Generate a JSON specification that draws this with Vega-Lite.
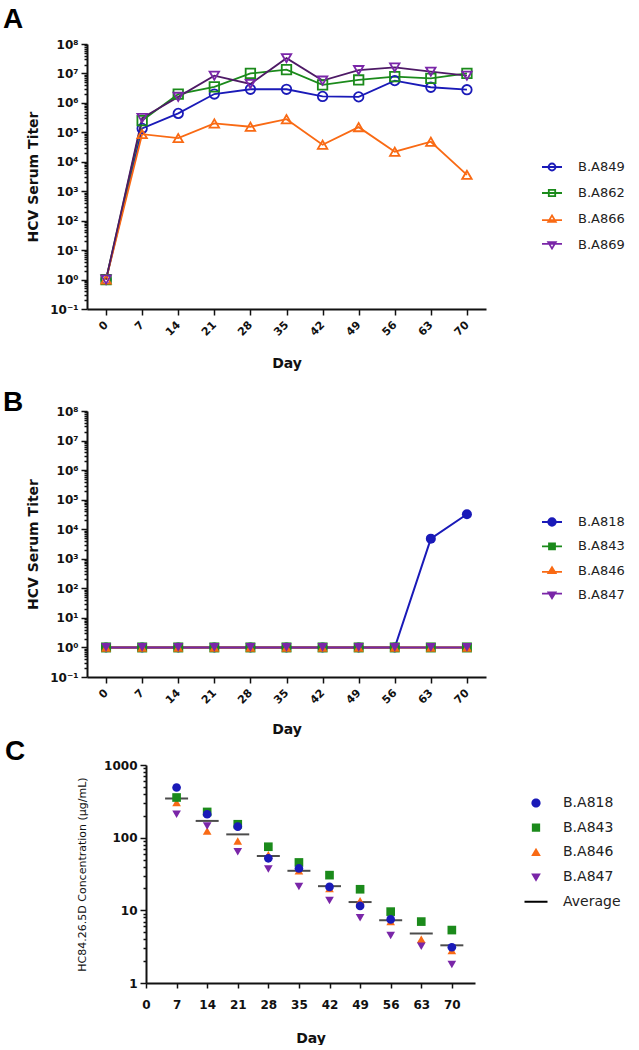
{
  "$schema": "https://vega.github.io/schema/vega-lite/v6.json",
  "background": "white",
  "padding": {"left": 3, "top": 6, "right": 0, "bottom": 0},
  "autosize": {"type": "pad"},
  "spacing": 1,
  "align": "none",
  "resolve": {"scale": {"color": "independent", "shape": "independent", "stroke": "independent", "x": "independent", "y": "independent"}},
  "datasets": {
    "panelA": [
      {"day": 0, "mouse": "B.A849", "value": 1}, {"day": 0, "mouse": "B.A862", "value": 1}, {"day": 0, "mouse": "B.A866", "value": 1}, {"day": 0, "mouse": "B.A869", "value": 1},
      {"day": 7, "mouse": "B.A849", "value": 136000}, {"day": 7, "mouse": "B.A862", "value": 250000}, {"day": 7, "mouse": "B.A866", "value": 87000}, {"day": 7, "mouse": "B.A869", "value": 306000},
      {"day": 14, "mouse": "B.A849", "value": 440000}, {"day": 14, "mouse": "B.A862", "value": 2000000}, {"day": 14, "mouse": "B.A866", "value": 64000}, {"day": 14, "mouse": "B.A869", "value": 1600000},
      {"day": 21, "mouse": "B.A849", "value": 2000000}, {"day": 21, "mouse": "B.A862", "value": 3500000}, {"day": 21, "mouse": "B.A866", "value": 200000}, {"day": 21, "mouse": "B.A869", "value": 8400000},
      {"day": 28, "mouse": "B.A849", "value": 2900000}, {"day": 28, "mouse": "B.A862", "value": 10000000}, {"day": 28, "mouse": "B.A866", "value": 155000}, {"day": 28, "mouse": "B.A869", "value": 4400000},
      {"day": 35, "mouse": "B.A849", "value": 2900000}, {"day": 35, "mouse": "B.A862", "value": 13500000}, {"day": 35, "mouse": "B.A866", "value": 280000}, {"day": 35, "mouse": "B.A869", "value": 33000000},
      {"day": 42, "mouse": "B.A849", "value": 1660000}, {"day": 42, "mouse": "B.A862", "value": 4100000}, {"day": 42, "mouse": "B.A866", "value": 38000}, {"day": 42, "mouse": "B.A869", "value": 5700000},
      {"day": 49, "mouse": "B.A849", "value": 1600000}, {"day": 49, "mouse": "B.A862", "value": 6000000}, {"day": 49, "mouse": "B.A866", "value": 150000}, {"day": 49, "mouse": "B.A869", "value": 13000000},
      {"day": 56, "mouse": "B.A849", "value": 5700000}, {"day": 56, "mouse": "B.A862", "value": 7800000}, {"day": 56, "mouse": "B.A866", "value": 22000}, {"day": 56, "mouse": "B.A869", "value": 16000000},
      {"day": 63, "mouse": "B.A849", "value": 3400000}, {"day": 63, "mouse": "B.A862", "value": 6800000}, {"day": 63, "mouse": "B.A866", "value": 48000}, {"day": 63, "mouse": "B.A869", "value": 11500000},
      {"day": 70, "mouse": "B.A849", "value": 2800000}, {"day": 70, "mouse": "B.A862", "value": 10000000}, {"day": 70, "mouse": "B.A866", "value": 3600}, {"day": 70, "mouse": "B.A869", "value": 8400000}
    ],
    "panelB": [
      {"day": 0, "mouse": "B.A818", "value": 1}, {"day": 7, "mouse": "B.A818", "value": 1}, {"day": 14, "mouse": "B.A818", "value": 1}, {"day": 21, "mouse": "B.A818", "value": 1}, {"day": 28, "mouse": "B.A818", "value": 1}, {"day": 35, "mouse": "B.A818", "value": 1}, {"day": 42, "mouse": "B.A818", "value": 1}, {"day": 49, "mouse": "B.A818", "value": 1}, {"day": 56, "mouse": "B.A818", "value": 1}, {"day": 63, "mouse": "B.A818", "value": 4800}, {"day": 70, "mouse": "B.A818", "value": 32000},
      {"day": 0, "mouse": "B.A843", "value": 1}, {"day": 7, "mouse": "B.A843", "value": 1}, {"day": 14, "mouse": "B.A843", "value": 1}, {"day": 21, "mouse": "B.A843", "value": 1}, {"day": 28, "mouse": "B.A843", "value": 1}, {"day": 35, "mouse": "B.A843", "value": 1}, {"day": 42, "mouse": "B.A843", "value": 1}, {"day": 49, "mouse": "B.A843", "value": 1}, {"day": 56, "mouse": "B.A843", "value": 1}, {"day": 63, "mouse": "B.A843", "value": 1}, {"day": 70, "mouse": "B.A843", "value": 1},
      {"day": 0, "mouse": "B.A846", "value": 1}, {"day": 7, "mouse": "B.A846", "value": 1}, {"day": 14, "mouse": "B.A846", "value": 1}, {"day": 21, "mouse": "B.A846", "value": 1}, {"day": 28, "mouse": "B.A846", "value": 1}, {"day": 35, "mouse": "B.A846", "value": 1}, {"day": 42, "mouse": "B.A846", "value": 1}, {"day": 49, "mouse": "B.A846", "value": 1}, {"day": 56, "mouse": "B.A846", "value": 1}, {"day": 63, "mouse": "B.A846", "value": 1}, {"day": 70, "mouse": "B.A846", "value": 1},
      {"day": 0, "mouse": "B.A847", "value": 1}, {"day": 7, "mouse": "B.A847", "value": 1}, {"day": 14, "mouse": "B.A847", "value": 1}, {"day": 21, "mouse": "B.A847", "value": 1}, {"day": 28, "mouse": "B.A847", "value": 1}, {"day": 35, "mouse": "B.A847", "value": 1}, {"day": 42, "mouse": "B.A847", "value": 1}, {"day": 49, "mouse": "B.A847", "value": 1}, {"day": 56, "mouse": "B.A847", "value": 1}, {"day": 63, "mouse": "B.A847", "value": 1}, {"day": 70, "mouse": "B.A847", "value": 1}
    ],
    "panelC": [
      {"day": 7, "mouse": "B.A846", "value": 305}, {"day": 7, "mouse": "B.A847", "value": 210}, {"day": 7, "mouse": "B.A843", "value": 357}, {"day": 7, "mouse": "B.A818", "value": 490},
      {"day": 14, "mouse": "B.A846", "value": 124}, {"day": 14, "mouse": "B.A847", "value": 145}, {"day": 14, "mouse": "B.A843", "value": 226}, {"day": 14, "mouse": "B.A818", "value": 210},
      {"day": 21, "mouse": "B.A846", "value": 90}, {"day": 21, "mouse": "B.A847", "value": 64}, {"day": 21, "mouse": "B.A843", "value": 153}, {"day": 21, "mouse": "B.A818", "value": 142},
      {"day": 28, "mouse": "B.A846", "value": 58}, {"day": 28, "mouse": "B.A847", "value": 37}, {"day": 28, "mouse": "B.A843", "value": 75}, {"day": 28, "mouse": "B.A818", "value": 52},
      {"day": 35, "mouse": "B.A846", "value": 35}, {"day": 35, "mouse": "B.A847", "value": 21.2}, {"day": 35, "mouse": "B.A843", "value": 45.6}, {"day": 35, "mouse": "B.A818", "value": 37.7},
      {"day": 42, "mouse": "B.A846", "value": 20}, {"day": 42, "mouse": "B.A847", "value": 13.7}, {"day": 42, "mouse": "B.A843", "value": 30.5}, {"day": 42, "mouse": "B.A818", "value": 21},
      {"day": 49, "mouse": "B.A846", "value": 13.5}, {"day": 49, "mouse": "B.A847", "value": 7.9}, {"day": 49, "mouse": "B.A843", "value": 19.5}, {"day": 49, "mouse": "B.A818", "value": 11.5},
      {"day": 56, "mouse": "B.A846", "value": 7}, {"day": 56, "mouse": "B.A847", "value": 4.5}, {"day": 56, "mouse": "B.A843", "value": 9.6}, {"day": 56, "mouse": "B.A818", "value": 7.5},
      {"day": 63, "mouse": "B.A846", "value": 4.0}, {"day": 63, "mouse": "B.A847", "value": 3.2}, {"day": 63, "mouse": "B.A843", "value": 7.0},
      {"day": 70, "mouse": "B.A846", "value": 2.8}, {"day": 70, "mouse": "B.A847", "value": 1.8}, {"day": 70, "mouse": "B.A843", "value": 5.35}, {"day": 70, "mouse": "B.A818", "value": 3.1}
    ],
    "panelCavg": [
      {"day": 7, "value": 345}, {"day": 14, "value": 170}, {"day": 21, "value": 111}, {"day": 28, "value": 56}, {"day": 35, "value": 35},
      {"day": 42, "value": 21.5}, {"day": 49, "value": 13}, {"day": 56, "value": 7.3}, {"day": 63, "value": 4.8}, {"day": 70, "value": 3.3}
    ]
  },
  "config": {
    "view": {"stroke": null},
    "font": "DejaVu Sans",
    "axis": {"grid": false, "domainColor": "#111", "domainWidth": 2, "tickColor": "#111", "tickWidth": 1.5, "labelColor": "#111", "labelFont": "DejaVu Sans", "labelFontWeight": "bold", "labelFontSize": 12, "titleFont": "DejaVu Sans", "titleFontWeight": "bold", "titleFontSize": 14, "titleColor": "#111", "labelOverlap": false, "labelFlush": false},
    "legend": {"labelFont": "DejaVu Sans", "labelColor": "#222"}
  },
  "vconcat": [
    {
      "width": 399, "height": 265,
      "data": {"name": "panelA"},
      "title": {"text": "A", "anchor": "start", "frame": "group", "dx": -84, "offset": 9, "dy": 27, "baseline": "alphabetic", "font": "Liberation Sans", "fontSize": 28, "fontWeight": "bold", "color": "#000"},
      "encoding": {
        "x": {"field": "day", "type": "quantitative", "scale": {"domain": [-3.7, 73.7], "nice": false, "zero": false},
          "axis": {"values": [0, 7, 14, 21, 28, 35, 42, 49, 56, 63, 70], "title": ["Day", ""], "titleLineHeight": 17, "labelAngle": -45, "labelAlign": "right", "labelBaseline": "middle", "labelFontSize": 11, "labelPadding": 8, "tickSize": 6, "titlePadding": 19}},
        "y": {"field": "value", "type": "quantitative", "scale": {"type": "log", "domain": [0.1, 100000000], "nice": false},
          "axis": {"values": [0.1, 0.2, 0.3, 0.4, 0.5, 0.6, 0.7, 0.8, 0.9, 1, 2, 3, 4, 5, 6, 7, 8, 9, 10, 20, 30, 40, 50, 60, 70, 80, 90, 100, 200, 300, 400, 500, 600, 700, 800, 900, 1000, 2000, 3000, 4000, 5000, 6000, 7000, 8000, 9000, 10000, 20000, 30000, 40000, 50000, 60000, 70000, 80000, 90000, 100000, 200000, 300000, 400000, 500000, 600000, 700000, 800000, 900000, 1000000, 2000000, 3000000, 4000000, 5000000, 6000000, 7000000, 8000000, 9000000, 10000000, 20000000, 30000000, 40000000, 50000000, 60000000, 70000000, 80000000, 90000000, 100000000],
            "labelExpr": "abs(log(datum.value)/LN10 - round(log(datum.value)/LN10)) < 0.001 ? '10' + ['⁻¹','⁰','¹','²','³','⁴','⁵','⁶','⁷','⁸'][round(log(datum.value)/LN10) + 1] : ''",
            "tickSize": {"condition": {"test": "abs(log(datum.value)/LN10 - round(log(datum.value)/LN10)) < 0.001", "value": 6}, "value": 3},
            "title": "HCV Serum Titer", "titlePadding": 9, "labelPadding": 3}}
      },
      "layer": [
        {"mark": {"type": "line", "strokeWidth": 1.8},
          "encoding": {"stroke": {"field": "mouse", "type": "nominal", "scale": {"domain": ["B.A869", "B.A866", "B.A862", "B.A849"], "range": ["#4e1a66", "#f96a14", "#1b8a1b", "#1a1ab8"]}, "legend": null}}},
        {"mark": {"type": "point", "filled": false, "size": 90, "strokeWidth": 1.8, "opacity": 1},
          "encoding": {
            "color": {"field": "mouse", "type": "nominal", "scale": {"domain": ["B.A849", "B.A862", "B.A866", "B.A869"], "range": ["#1a1ab8", "#1b8a1b", "#f96a14", "#7a26a8"]},
              "legend": {"title": null, "orient": "none", "legendX": 454, "legendY": 113, "padding": 0, "symbolSize": 400, "symbolStrokeWidth": 1.8, "labelFontSize": 13, "labelOffset": 15, "rowPadding": 6, "clipHeight": 20,
                "encoding": {"symbols": {"shape": {"value": {"expr": "datum.value === 'B.A849' ? 'M-1,0H1M0.35,0A0.35,0.35 0 1,1 -0.35,0A0.35,0.35 0 1,1 0.35,0Z' : datum.value === 'B.A862' ? 'M-1,0H1M-0.32,-0.32H0.32V0.32H-0.32Z' : datum.value === 'B.A866' ? 'M-1,0.12H1M0,-0.36L0.38,0.28L-0.38,0.28Z' : 'M-1,-0.12H1M-0.38,-0.28L0.38,-0.28L0,0.36Z'"}}}}}},
            "shape": {"field": "mouse", "type": "nominal", "scale": {"domain": ["B.A869", "B.A866", "B.A862", "B.A849"], "range": ["triangle-down", "triangle-up", "square", "circle"]}, "legend": null}
          }}
      ]
    },
    {
      "width": 399, "height": 266,
      "data": {"name": "panelB"},
      "title": {"text": "B", "anchor": "start", "frame": "group", "dx": -84, "offset": 0, "dy": 34, "baseline": "alphabetic", "font": "Liberation Sans", "fontSize": 28, "fontWeight": "bold", "color": "#000"},
      "encoding": {
        "x": {"field": "day", "type": "quantitative", "scale": {"domain": [-3.7, 73.7], "nice": false, "zero": false},
          "axis": {"values": [0, 7, 14, 21, 28, 35, 42, 49, 56, 63, 70], "title": "Day", "labelAngle": -45, "labelAlign": "right", "labelBaseline": "middle", "labelFontSize": 11, "labelPadding": 8, "tickSize": 6, "titlePadding": 17}},
        "y": {"field": "value", "type": "quantitative", "scale": {"type": "log", "domain": [0.1, 100000000], "nice": false},
          "axis": {"values": [0.1, 0.2, 0.3, 0.4, 0.5, 0.6, 0.7, 0.8, 0.9, 1, 2, 3, 4, 5, 6, 7, 8, 9, 10, 20, 30, 40, 50, 60, 70, 80, 90, 100, 200, 300, 400, 500, 600, 700, 800, 900, 1000, 2000, 3000, 4000, 5000, 6000, 7000, 8000, 9000, 10000, 20000, 30000, 40000, 50000, 60000, 70000, 80000, 90000, 100000, 200000, 300000, 400000, 500000, 600000, 700000, 800000, 900000, 1000000, 2000000, 3000000, 4000000, 5000000, 6000000, 7000000, 8000000, 9000000, 10000000, 20000000, 30000000, 40000000, 50000000, 60000000, 70000000, 80000000, 90000000, 100000000],
            "labelExpr": "abs(log(datum.value)/LN10 - round(log(datum.value)/LN10)) < 0.001 ? '10' + ['⁻¹','⁰','¹','²','³','⁴','⁵','⁶','⁷','⁸'][round(log(datum.value)/LN10) + 1] : ''",
            "tickSize": {"condition": {"test": "abs(log(datum.value)/LN10 - round(log(datum.value)/LN10)) < 0.001", "value": 6}, "value": 3},
            "title": "HCV Serum Titer", "titlePadding": 9, "labelPadding": 3}}
      },
      "layer": [
        {"mark": {"type": "line", "strokeWidth": 2},
          "encoding": {"stroke": {"field": "mouse", "type": "nominal", "scale": {"domain": ["B.A847", "B.A846", "B.A843", "B.A818"], "range": ["#7a26a8", "#f96a14", "#1b8a1b", "#1a1ab8"]}, "legend": null}}},
        {"mark": {"type": "point", "filled": true, "size": 100, "opacity": 1},
          "encoding": {
            "color": {"field": "mouse", "type": "nominal", "scale": {"domain": ["B.A818", "B.A843", "B.A846", "B.A847"], "range": ["#1a1ab8", "#1b8a1b", "#f96a14", "#7a26a8"]},
              "legend": {"title": null, "orient": "none", "legendX": 454, "legendY": 101, "padding": 0, "symbolSize": 400, "symbolStrokeWidth": 1.8, "labelFontSize": 13, "labelOffset": 15, "rowPadding": 4.3, "clipHeight": 20,
                "encoding": {"symbols": {
                  "shape": {"value": {"expr": "datum.value === 'B.A818' ? 'M-1,0H1M0.38,0A0.38,0.38 0 1,1 -0.38,0A0.38,0.38 0 1,1 0.38,0Z' : datum.value === 'B.A843' ? 'M-1,0H1M-0.3,-0.3H0.3V0.3H-0.3Z' : datum.value === 'B.A846' ? 'M-1,0.12H1M0,-0.34L0.36,0.26L-0.36,0.26Z' : 'M-1,-0.12H1M-0.36,-0.26L0.36,-0.26L0,0.34Z'"}},
                  "stroke": {"value": {"expr": "datum.value === 'B.A818' ? '#1a1ab8' : datum.value === 'B.A843' ? '#1b8a1b' : datum.value === 'B.A846' ? '#f96a14' : '#7a26a8'"}}}}}},
            "shape": {"field": "mouse", "type": "nominal", "scale": {"domain": ["B.A847", "B.A846", "B.A843", "B.A818"], "range": ["triangle-down", "triangle-up", "square", "circle"]}, "legend": null}
          }}
      ]
    },
    {
      "hconcat": [
        {"width": 59, "height": 218, "data": {"values": []}, "mark": "point"},
        {
          "width": 329, "height": 218,
          "title": {"text": "C", "anchor": "start", "frame": "group", "dx": -141, "offset": 0, "dy": 29, "baseline": "alphabetic", "font": "Liberation Sans", "fontSize": 28, "fontWeight": "bold", "color": "#000"},
          "encoding": {
            "x": {"field": "day", "type": "quantitative", "scale": {"domain": [0, 75.3], "nice": false, "zero": false},
              "axis": {"values": [0, 7, 14, 21, 28, 35, 42, 49, 56, 63, 70], "title": "Day", "labelAngle": 0, "labelFontSize": 12, "labelPadding": 11, "tickSize": 5, "titlePadding": 21}},
            "y": {"field": "value", "type": "quantitative", "scale": {"type": "log", "domain": [1, 1000], "nice": false},
              "axis": {"values": [1, 2, 3, 4, 5, 6, 7, 8, 9, 10, 20, 30, 40, 50, 60, 70, 80, 90, 100, 200, 300, 400, 500, 600, 700, 800, 900, 1000],
                "labelExpr": "abs(log(datum.value)/LN10 - round(log(datum.value)/LN10)) < 0.001 ? format(datum.value, 'd') : ''",
                "tickSize": {"condition": {"test": "abs(log(datum.value)/LN10 - round(log(datum.value)/LN10)) < 0.001", "value": 6}, "value": 3},
                "title": "HC84.26.5D Concentration (μg/mL)", "titleFontSize": 11, "titleFontWeight": "normal", "titlePadding": 16, "labelPadding": 3}}
          },
          "layer": [
            {"data": {"name": "panelCavg"}, "mark": {"type": "tick", "orient": "horizontal", "size": 23, "thickness": 2, "color": "#000"}},
            {"data": {"name": "panelC"}, "mark": {"type": "point", "filled": true, "size": 75, "opacity": 1},
              "encoding": {
                "color": {"field": "mouse", "type": "nominal", "scale": {"domain": ["B.A818", "B.A843", "B.A846", "B.A847", "Average"], "range": ["#1a1ab8", "#1b8a1b", "#f96a14", "#7a26a8", "#000000"]},
                  "legend": {"title": null, "orient": "none", "legendX": 436.5, "legendY": 28, "padding": 0, "symbolSize": 529, "labelFontSize": 14, "labelOffset": 14.5, "rowPadding": 4.7, "clipHeight": 20,
                    "encoding": {"symbols": {"shape": {"value": {"expr": "datum.value === 'B.A818' ? 'M0.4,0A0.4,0.4 0 1,1 -0.4,0A0.4,0.4 0 1,1 0.4,0Z' : datum.value === 'B.A843' ? 'M-0.36,-0.36H0.36V0.36H-0.36Z' : datum.value === 'B.A846' ? 'M0,-0.4L0.42,0.32L-0.42,0.32Z' : datum.value === 'B.A847' ? 'M-0.42,-0.32L0.42,-0.32L0,0.4Z' : 'M-1,-0.09H1V0.09H-1Z'"}}}}}},
                "shape": {"field": "mouse", "type": "nominal", "scale": {"domain": ["B.A818", "B.A843", "B.A846", "B.A847"], "range": ["circle", "square", "triangle-up", "triangle-down"]}, "legend": null}
              }}
          ]
        }
      ],
      "spacing": 0,
      "bounds": "flush"
    }
  ]
}
